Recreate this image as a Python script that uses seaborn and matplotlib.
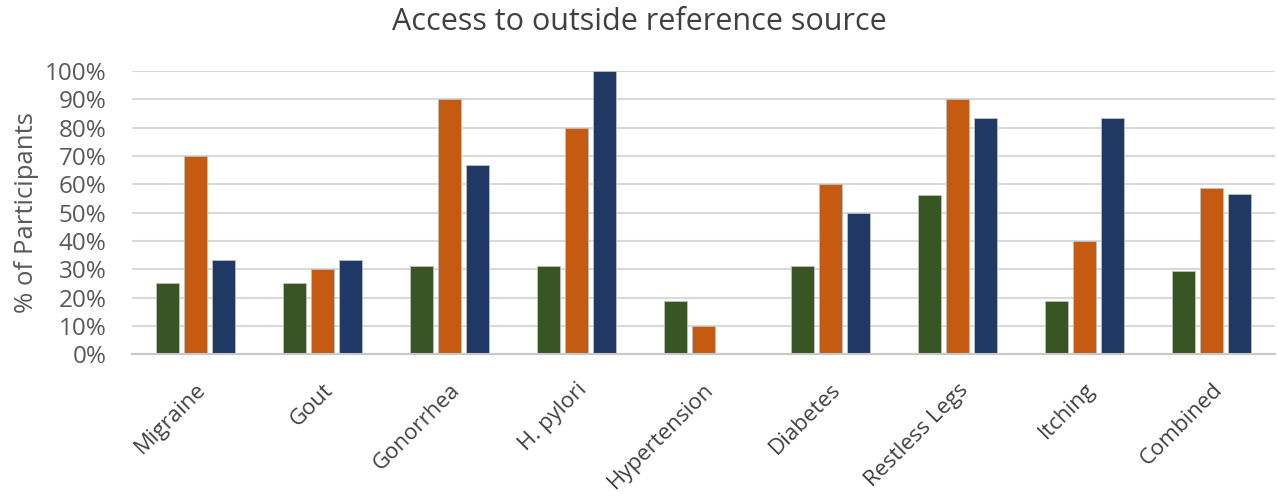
import pandas as pd
import numpy as np

import matplotlib
matplotlib.use('Agg')
import matplotlib.pyplot as plt
import seaborn as sns
from matplotlib.ticker import PercentFormatter

# data (fraction of participants)
conditions = ["Migraine", "Gout", "Gonorrhea", "H. pylori", "Hypertension",
              "Diabetes", "Restless Legs", "Itching", "Combined"]
group_a = [0.25, 0.25, 0.3125, 0.3125, 0.1875, 0.3125, 0.5625, 0.1875, 0.294]
group_b = [0.70, 0.30, 0.90, 0.80, 0.10, 0.60, 0.90, 0.40, 0.585]
group_c = [0.333, 0.333, 0.667, 1.00, 0.0, 0.50, 0.833, 0.833, 0.564]
series_names = ["Group A", "Group B", "Group C"]
colors = ["#375623", "#C55A11", "#1F3864"]

df = pd.DataFrame({
    "condition": conditions * 3,
    "value": group_a + group_b + group_c,
    "series": np.repeat(series_names, len(conditions)),
})

sns.set_style("white")
plt.rcParams['font.family'] = ['Open Sans', 'DejaVu Sans']

fig = plt.figure(figsize=(12.79, 4.96), dpi=100)
ax = fig.add_axes([0.103, 0.286, 0.894, 0.571])

sns.barplot(data=df, x="condition", y="value", hue="series", order=conditions,
            hue_order=series_names, palette=colors, saturation=1,
            width=0.66, gap=0.18, edgecolor="#BFBFBF", linewidth=0.6,
            legend=False, ax=ax)

ax.set_ylim(0, 1.0)
ax.set_xlim(-0.5, 8.5)
ax.set_yticks(np.arange(0, 1.01, 0.1))
ax.yaxis.set_major_formatter(PercentFormatter(1.0, decimals=0))
ax.grid(axis="y", color="#D9D9D9", linewidth=1.5)
ax.set_axisbelow(True)
for s in ["top", "right", "left"]:
    ax.spines[s].set_visible(False)
ax.spines["bottom"].set_color("#C8C8C8")
ax.spines["bottom"].set_linewidth(1.5)

ax.tick_params(axis="y", length=0, labelsize=17.5, labelcolor="#595959", pad=18)
ax.tick_params(axis="x", length=0, labelsize=16, labelcolor="#404040", pad=18)
plt.setp(ax.get_xticklabels(), rotation=45, ha="right", rotation_mode="anchor")

ax.set_xlabel("")
ax.set_ylabel("% of Participants", fontsize=18.5, color="#595959")
ax.yaxis.set_label_coords(-0.081, 0.5)
fig.suptitle("Access to outside reference source", fontsize=22,
             color="#404040", x=0.5, y=0.956, va="center")

plt.savefig("out.png", dpi=100)
plt.close()
